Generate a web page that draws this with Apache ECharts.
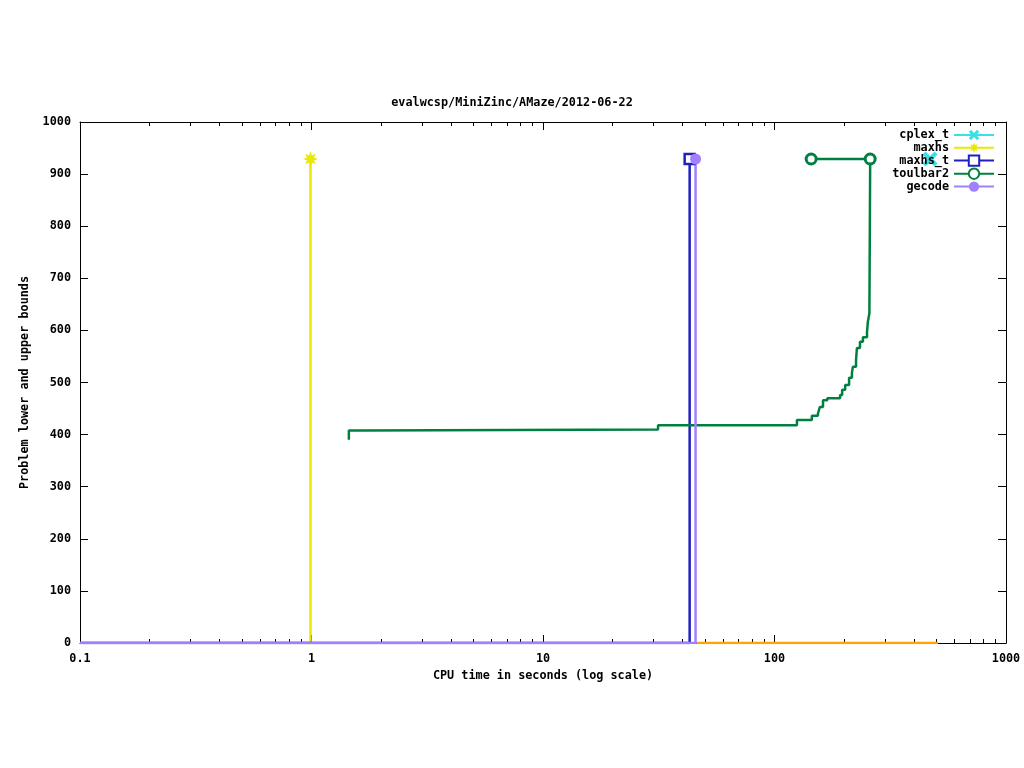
<!DOCTYPE html>
<html>
<head>
<meta charset="utf-8">
<script src="https://cdn.jsdelivr.net/npm/echarts@6/dist/echarts.min.js"></script>
<style>
  html, body { margin: 0; padding: 0; background: #fff; }
  #chart { width: 1024px; height: 768px; }
</style>
</head>
<body>
<div id="chart"></div>
<script>
// data (x = cpu seconds, y = bound)
const xMajorTicks = [0.1, 1, 10, 100, 1000];
const xMinorTicks = [0.2, 0.3, 0.4, 0.5, 0.6, 0.7, 0.8, 0.9,
  2, 3, 4, 5, 6, 7, 8, 9, 20, 30, 40, 50, 60, 70, 80, 90,
  200, 300, 400, 500, 600, 700, 800, 900];
const legendNames = ['cplex_t', 'maxhs', 'maxhs_t', 'toulbar2', 'gecode'];

const cplexPoints = [[470, 929]];
const cplexBase = [[46, 0], [508, 0]];
const maxhsPoints = [[0.1, 0], [0.99, 0], [0.99, 929]];
const maxhsTPoints = [[0.1, 0], [43, 0], [43, 929]];
const gecodePoints = [[0.1, 0], [45.6, 0], [45.6, 929]];
const toulbarUpper = [[144, 929], [259, 929]];
const toulbarLower = [
  [1.45, 390], [1.45, 408], [1.67, 410], [31.4, 418], [125, 428], [145, 436],
  [154, 440], [157, 453], [162, 466], [169, 470], [192, 476], [196, 486],
  [202, 495], [210, 509], [216, 518], [218, 530], [225, 543], [227, 566],
  [234, 578], [241, 587], [251, 597], [253, 616], [257, 633], [259, 929]
];

const font = 'DejaVu Sans Mono';
const txt = { fontFamily: font, fontWeight: 'bold', fontSize: 11.8, color: '#000' };

const xMark = 'path://M0,2L2,0L5,3L8,0L10,2L7,5L10,8L8,10L5,7L2,10L0,8L3,5Z';
const star = 'path://M10,5L7.3,6L8.5,8.5L6,7.3L5,10L4,7.3L1.5,8.5L2.7,6L0,5L2.7,4L1.5,1.5L4,2.7L5,0L6,2.7L8.5,1.5L7.3,4Z';

// only the last point of each run carries a marker
function lastMarked(pts) {
  return pts.map((p, i) => i === pts.length - 1 ? p : { value: p, symbol: 'none' });
}

const chart = echarts.init(document.getElementById('chart'));

function xAx(pos, main, minor) {
  return {
    type: 'log', logBase: 10, min: 0.1, max: 1000, position: pos,
    axisLine: { show: main, onZero: false, lineStyle: { color: '#000', width: 1 } },
    axisTick: minor
      ? { show: true, inside: true, length: 4, customValues: xMinorTicks, lineStyle: { color: '#000' } }
      : { show: true, inside: true, length: 8, lineStyle: { color: '#000' } },
    axisLabel: {
      show: pos === 'bottom' && main, margin: 10, ...txt,
      customValues: xMajorTicks, formatter: v => String(v)
    },
    splitLine: { show: false },
    minorTick: { show: false },
    name: pos === 'bottom' && main ? 'CPU time in seconds (log scale)' : '',
    nameLocation: 'middle', nameGap: 27, nameTextStyle: txt
  };
}

function yAx(pos) {
  return {
    type: 'value', min: 0, max: 1000, interval: 100, position: pos,
    axisLine: { show: true, lineStyle: { color: '#000', width: 1 } },
    axisTick: { show: true, inside: true, length: 8, lineStyle: { color: '#000' } },
    axisLabel: { show: pos === 'left', margin: 9, ...txt, formatter: v => String(v) },
    splitLine: { show: false },
    name: pos === 'left' ? 'Problem lower and upper bounds' : '',
    nameLocation: 'middle', nameGap: 49, nameTextStyle: txt
  };
}

const option = {
  animation: false,
  backgroundColor: '#fff',
  title: {
    text: 'evalwcsp/MiniZinc/AMaze/2012-06-22',
    left: 'center', top: 92,
    textStyle: txt
  },
  legend: {
    data: legendNames,
    orient: 'vertical', align: 'right',
    right: 24, top: 124,
    itemWidth: 40, itemHeight: 13, itemGap: 0.7,
    textStyle: txt,
    selectedMode: false
  },
  grid: { left: 80, right: 18, top: 122, bottom: 125, outerBoundsMode: 'none' },
  xAxis: [xAx('bottom', true, false), xAx('bottom', false, true), xAx('top', true, false), xAx('top', false, true)],
  yAxis: [yAx('left'), yAx('right')],
  series: [
    {
      type: 'line', data: cplexBase, symbol: 'none',
      lineStyle: { color: '#ffa500', width: 2.5 }, z: 2
    },
    {
      name: 'cplex_t', type: 'line', data: cplexPoints,
      symbol: xMark, symbolSize: 15,
      itemStyle: { color: '#38e0e8' }, lineStyle: { color: '#38e0e8', width: 2.5 }
    },
    {
      name: 'maxhs', type: 'line', data: lastMarked(maxhsPoints),
      symbol: star, symbolSize: 15,
      itemStyle: { color: '#e8e800' }, lineStyle: { color: '#e8e800', width: 2.5 }
    },
    {
      name: 'maxhs_t', type: 'line', data: lastMarked(maxhsTPoints),
      symbol: 'rect', symbolSize: 10,
      itemStyle: { color: '#fff', borderColor: '#2020c0', borderWidth: 2.5 },
      lineStyle: { color: '#2020c0', width: 2.5 }
    },
    {
      name: 'toulbar2', type: 'line', data: toulbarUpper,
      symbol: 'circle', symbolSize: 10,
      itemStyle: { color: '#fff', borderColor: '#008040', borderWidth: 3 },
      lineStyle: { color: '#008040', width: 2.5 }
    },
    {
      name: 'toulbar2', type: 'line', data: toulbarLower, step: 'end',
      symbol: 'none',
      itemStyle: { color: '#008040' }, lineStyle: { color: '#008040', width: 2.5 }
    },
    {
      name: 'gecode', type: 'line', data: lastMarked(gecodePoints),
      symbol: 'circle', symbolSize: 11,
      itemStyle: { color: '#a080ff' }, lineStyle: { color: '#a080ff', width: 2.5 }
    }
  ]
};

chart.setOption(option);
</script>
</body>
</html>
